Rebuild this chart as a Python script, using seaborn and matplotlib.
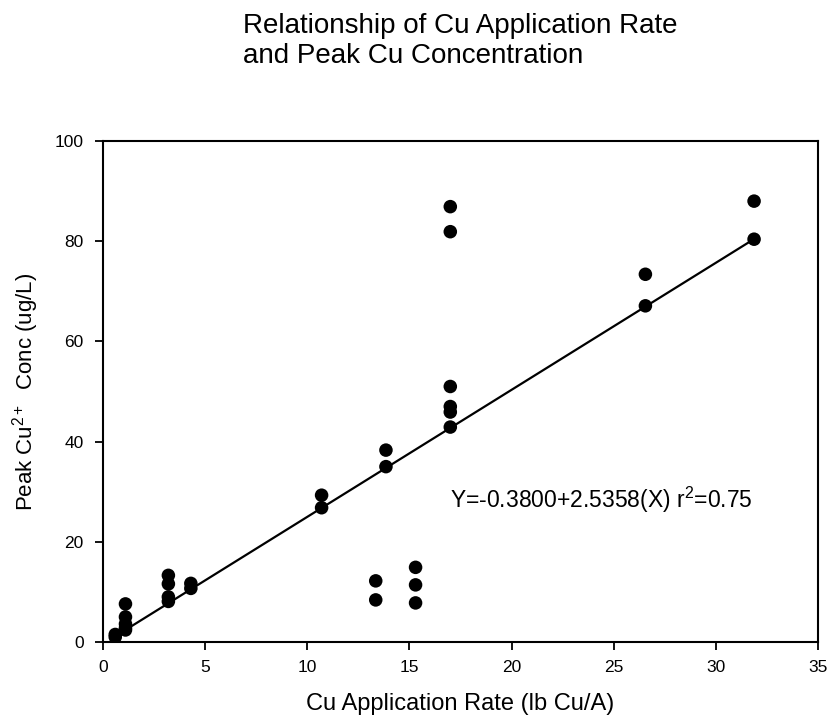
import matplotlib

matplotlib.use("Agg")
import matplotlib.pyplot as plt
import numpy as np
import pandas as pd
import seaborn as sns

# Cu application rate (lb Cu/A) and peak Cu2+ concentration (ug/L)
rate = [0.6, 0.6,
        1.1, 1.1, 1.1, 1.1, 1.1,
        3.2, 3.2, 3.2, 3.2,
        4.3, 4.3,
        10.7, 10.7,
        13.35, 13.35,
        13.85, 13.85,
        15.3, 15.3, 15.3,
        17.0, 17.0, 17.0, 17.0, 17.0, 17.0,
        26.55, 26.55,
        31.87, 31.87]
peak_cu = [1.0, 1.5,
           7.6, 5.0, 3.6, 2.8, 2.4,
           13.3, 11.6, 9.0, 8.1,
           11.7, 10.7,
           29.3, 26.8,
           12.2, 8.4,
           38.3, 35.0,
           14.9, 11.4, 7.8,
           86.9, 81.9, 51.0, 47.0, 45.9, 42.9,
           73.4, 67.1,
           88.0, 80.4]

intercept = -0.3800
slope = 2.5358
r_squared = 0.75

x_ticks = [0, 5, 10, 15, 20, 25, 30, 35]
y_ticks = [0, 20, 40, 60, 80, 100]

sns.set_style("ticks")
plt.rcParams["font.family"] = ["Liberation Sans", "DejaVu Sans"]
plt.rcParams["mathtext.fontset"] = "custom"
plt.rcParams["mathtext.rm"] = "Liberation Sans"
plt.rcParams["mathtext.it"] = "Liberation Sans"
plt.rcParams["text.color"] = "black"
plt.rcParams["axes.labelcolor"] = "black"
plt.rcParams["xtick.color"] = "black"
plt.rcParams["ytick.color"] = "black"

df = pd.DataFrame({"rate": rate, "peak": peak_cu})

fig, ax = plt.subplots(figsize=(8.32, 7.25), dpi=100)
fig.subplots_adjust(left=0.1238, right=0.9832, top=0.8055, bottom=0.1145)

sns.scatterplot(data=df, x="rate", y="peak", color="black", s=95,
                edgecolor="none", ax=ax, zorder=3)

fit_x = np.array([min(rate), max(rate)])
fit_y = intercept + slope * fit_x
sns.lineplot(x=fit_x, y=fit_y, color="black", linewidth=1.6, ax=ax, zorder=2)

ax.text(17.0, 28.4, f"Y={intercept:.4f}+{slope:.4f}(X) r$\\mathrm{{^2}}$={r_squared:.2f}",
        fontsize=16.5, va="center", ha="left")

ax.set_xlim(0, 35)
ax.set_ylim(0, 100)
ax.set_xticks(x_ticks)
ax.set_yticks(y_ticks)
ax.tick_params(axis="both", direction="out", length=6, width=1.3,
               labelsize=12.5, top=False, right=False)
ax.tick_params(axis="x", pad=7)
ax.tick_params(axis="y", pad=8)
for side in ax.spines.values():
    side.set_linewidth(1.5)
    side.set_color("black")

ax.set_xlabel("Cu Application Rate (lb Cu/A)", fontsize=17, labelpad=13)
ax.set_ylabel("Peak Cu$\\mathrm{^{2+}}$  Conc (ug/L)", fontsize=16, labelpad=10)

fig.text(243 / 832, 1 - 33 / 725, "Relationship of Cu Application Rate",
         fontsize=20, ha="left", va="baseline")
fig.text(243 / 832, 1 - 63 / 725, "and Peak Cu Concentration",
         fontsize=20, ha="left", va="baseline")

fig.savefig("out.png", dpi=100)
